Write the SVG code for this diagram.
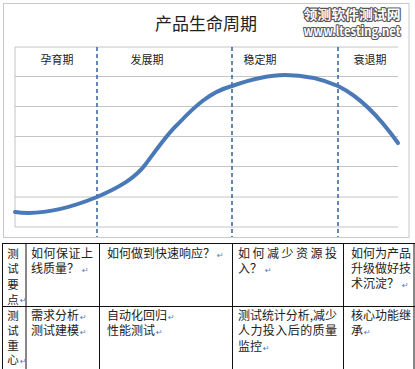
<svg xmlns="http://www.w3.org/2000/svg" width="415" height="369" viewBox="0 0 415 369">
<style>
.cjk{font-family:"Noto Sans CJK SC","Noto Sans",sans-serif;fill:#222}
.t{font-size:12px}
.v{font-size:11.5px}
.h{font-size:11px;text-anchor:middle}
.grid{stroke:#c4c4c4;stroke-width:1;fill:none}
.dash{stroke:#3f6aa6;stroke-width:1.6;stroke-dasharray:4 3;fill:none}
.tl{stroke:#111;stroke-width:1;fill:none}
.rm{font-family:"DejaVu Sans",sans-serif;font-size:8px;fill:#4f7bc4}
.wm{font-family:"Noto Sans CJK SC","DejaVu Sans",sans-serif;font-weight:bold;fill:#fff;stroke:#555;stroke-width:2.2;paint-order:stroke;stroke-linejoin:round}
</style>
<rect width="415" height="369" fill="#fff"/>
<g id="chart">
<rect x="3.5" y="3.5" width="405.5" height="234" fill="#fff" stroke="#c8c8c8" stroke-width="1"/>
<text class="cjk" x="206" y="29.5" font-size="17" text-anchor="middle">产品生命周期</text>
<g id="grid">
<path class="grid" d="M15,47H398M15,76.5H398M15,106.5H398M15,136.5H398M15,166.5H398M15,197H398M15,227H398M15,47V227"/>
</g>
<g id="phases">
<text class="cjk h" x="57" y="64">孕育期</text>
<text class="cjk h" x="147" y="64">发展期</text>
<text class="cjk h" x="260" y="64">稳定期</text>
<text class="cjk h" x="370" y="64">衰退期</text>
</g>
<g id="connectors">
<path class="dash" d="M97,47V237M232,47V237M338,47V237"/>
<path d="M15,212 C35,215 60,212 97,197 C120,187 135,178 145,165 C160,145 168,133 178,124 C195,106 210,92 232,86 C255,78 270,75 285,75 C305,75 322,79 338,86 C360,97 378,115 398,143" fill="none" stroke="#4a79b8" stroke-width="4" stroke-linecap="round"/>
</g>
</g>
<g id="watermark">
<text class="wm" x="352" y="19" font-size="13" text-anchor="middle" textLength="97" lengthAdjust="spacingAndGlyphs">领测软件测试网</text>
<text class="wm" x="352" y="35.5" font-size="13" text-anchor="middle" textLength="97" lengthAdjust="spacingAndGlyphs">www.ltesting.net</text>
</g>
<g id="table">
<path class="tl" d="M2,243.5H415M2,306.5H415M2.5,243V369M26,243V369M99.5,243V369M232.5,243V369M343.5,243V369M414,243V369"/>
<g id="row1">
<text class="cjk v" x="13" text-anchor="middle"><tspan x="13" y="257.5">测</tspan><tspan x="13" y="273">试</tspan><tspan x="13" y="288.5">要</tspan><tspan x="13" y="303.5">点</tspan></text>
<text class="rm" x="20" y="303">↵</text>
<text class="cjk t" x="31" y="257.5" textLength="62">如何保证上</text>
<text class="cjk t" x="31" y="273">线质量？<tspan class="rm" dx="3">↵</tspan></text>
<text class="cjk t" x="107" y="257.5">如何做到快速响应？<tspan class="rm" dx="2">↵</tspan></text>
<text class="cjk t" x="238" y="257.5" textLength="99">如何减少资源投</text>
<text class="cjk t" x="238" y="273">入？<tspan class="rm" dx="3">↵</tspan></text>
<text class="cjk t" x="351" y="257.5">如何为产品</text>
<text class="cjk t" x="351" y="273">升级做好技</text>
<text class="cjk t" x="351" y="288">术沉淀？<tspan class="rm" dx="3">↵</tspan></text>
</g>
<g id="row2">
<text class="cjk v" x="13" text-anchor="middle"><tspan x="13" y="319.5">测</tspan><tspan x="13" y="334.5">试</tspan><tspan x="13" y="349.5">重</tspan><tspan x="13" y="364">心</tspan></text>
<text class="rm" x="20" y="364">↵</text>
<text class="cjk t" x="31" y="319.5">需求分析<tspan class="rm" dx="1">↵</tspan></text>
<text class="cjk t" x="31" y="335">测试建模<tspan class="rm" dx="1">↵</tspan></text>
<text class="cjk t" x="107" y="319.5">自动化回归<tspan class="rm" dx="1">↵</tspan></text>
<text class="cjk t" x="107" y="335">性能测试<tspan class="rm" dx="1">↵</tspan></text>
<text class="cjk t" x="238" y="319.5" textLength="99">测试统计分析,减少</text>
<text class="cjk t" x="238" y="335" textLength="99">人力投入后的质量</text>
<text class="cjk t" x="238" y="350.5">监控<tspan class="rm" dx="1">↵</tspan></text>
<text class="cjk t" x="351" y="319.5">核心功能继</text>
<text class="cjk t" x="351" y="335">承<tspan class="rm" dx="1">↵</tspan></text>
</g>
</g>
</svg>
